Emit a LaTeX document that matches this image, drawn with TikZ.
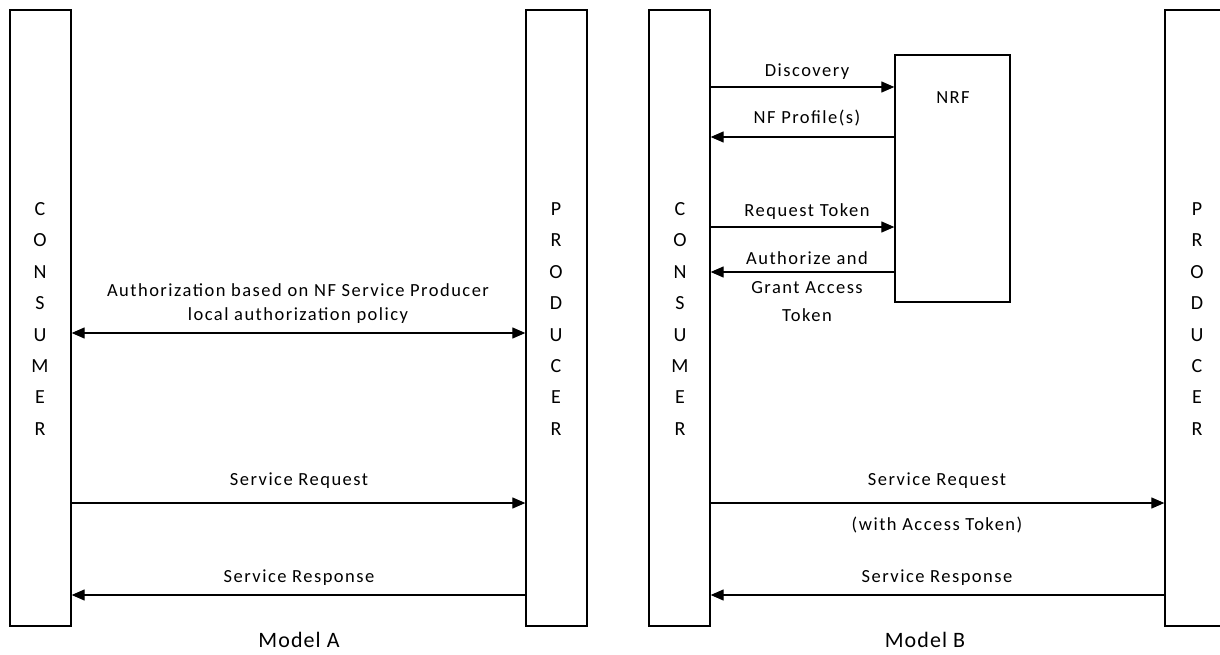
\documentclass[tikz,border=0pt]{standalone}
\usepackage{fontspec}
\setmainfont{Carlito}
\newfontfamily\spacedfont[LetterSpace=8]{Carlito}
\newfontfamily\titlefont[LetterSpace=5]{Carlito}
\usetikzlibrary{arrows.meta}
\begin{document}
\begin{tikzpicture}[x=1pt,y=-1pt,
  box/.style={draw, line width=1.3pt, minimum width=61pt, minimum height=616pt, inner sep=0pt},
  nrfbox/.style={draw, line width=1.3pt, minimum width=115pt, minimum height=247pt, inner sep=0pt},
  msg/.style={line width=1.2pt, -{Triangle[length=13pt,width=11pt]}},
  bimsg/.style={line width=1.2pt, {Triangle[length=13pt,width=11pt]}-{Triangle[length=13pt,width=11pt]}},
  lab/.style={font=\spacedfont\fontsize{18.5}{21}\selectfont, inner sep=0pt},
  vert/.style={font=\fontsize{20}{31.4}\selectfont, align=center, inner sep=0pt},
  title/.style={font=\titlefont\fontsize{22}{26}\selectfont, inner sep=0pt}]
\useasboundingbox (0,0) rectangle (1220,655);
% boxes
\node[box] (ca) at (40.5,318) {};
\node[box] (pa) at (556.5,318) {};
\node[box] (cb) at (679.5,318) {};
\node[box] (pb) at (1195.5,318) {};
\node[nrfbox] (nrf) at (952.5,178.5) {};
\node[lab] (nrft) at (953,98) {NRF};
% vertical names
\node[vert] (cat) at (40,319) {C\\O\\N\\S\\U\\M\\E\\R};
\node[vert] (pat) at (556,319) {P\\R\\O\\D\\U\\C\\E\\R};
\node[vert] (cbt) at (680,319) {C\\O\\N\\S\\U\\M\\E\\R};
\node[vert] (pbt) at (1197,319) {P\\R\\O\\D\\U\\C\\E\\R};
% Model A
\draw[bimsg] (ca.east |- 0,333) -- (pa.west |- 0,333);
\node[lab] (l1) at (298,290) {Authorization based on NF Service Producer};
\node[lab] (l2) at (298,316) {local authorization policy};
\draw[msg] (ca.east |- 0,503) -- (pa.west |- 0,503);
\node[lab] (l3) at (299,481) {Service Request};
\draw[msg] (pa.west |- 0,595) -- (ca.east |- 0,595);
\node[lab] (l4) at (299,578) {Service Response};
\node[title] (ma) at (299,640) {Model A};
% Model B
\draw[msg] (cb.east |- 0,87) -- (nrf.west |- 0,87);
\node[lab] (b1) at (807,72) {Discovery};
\draw[msg] (nrf.west |- 0,137) -- (cb.east |- 0,137);
\node[lab] (b2) at (807,118) {NF Profile(s)};
\draw[msg] (cb.east |- 0,227) -- (nrf.west |- 0,227);
\node[lab] (b3) at (807,212) {Request Token};
\draw[msg] (nrf.west |- 0,272) -- (cb.east |- 0,272);
\node[lab] (b4) at (807,258) {Authorize and};
\node[lab] (b5) at (807,288) {Grant Access};
\node[lab] (b6) at (807,315) {Token};
\draw[msg] (cb.east |- 0,503) -- (pb.west |- 0,503);
\node[lab] (b7) at (937,481) {Service Request};
\node[lab] (b8) at (937,525) {(with Access Token)};
\draw[msg] (pb.west |- 0,595) -- (cb.east |- 0,595);
\node[lab] (b9) at (937,578) {Service Response};
\node[title] (mb) at (925,640) {Model B};
\end{tikzpicture}
\end{document}
